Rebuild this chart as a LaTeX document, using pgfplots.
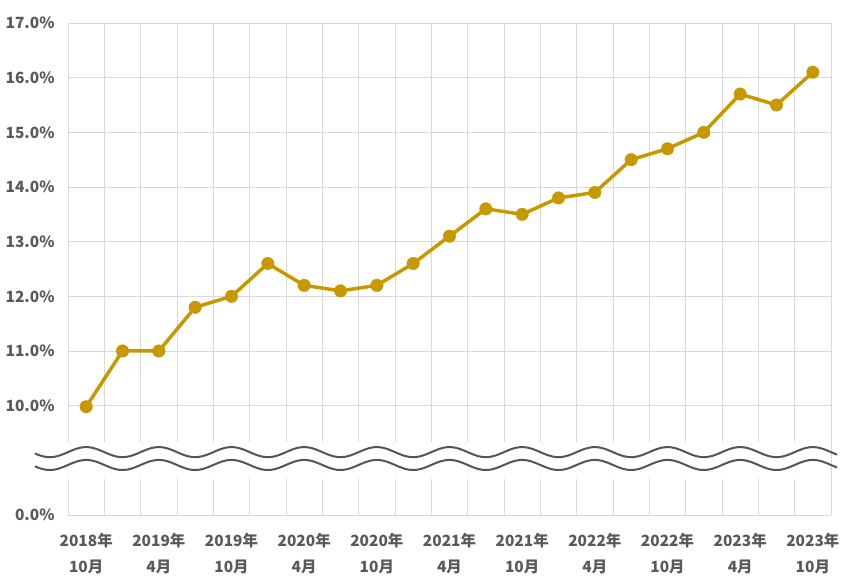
\documentclass[border=0pt]{standalone}
\usepackage{fontspec}
\setmainfont{Noto Sans CJK JP}
\usepackage{pgfplots}
\pgfplotsset{compat=1.18}
\definecolor{gold}{RGB}{200,152,0}
\definecolor{gridc}{RGB}{217,217,217}
\definecolor{txt}{RGB}{89,89,89}
\definecolor{wavec}{RGB}{85,85,85}
\begin{document}
\begin{tikzpicture}
\begin{axis}[
  scale only axis, width=763bp, height=492bp,
  xmin=-0.5, xmax=20.5, ymin=8, ymax=17,
  axis line style={draw=none},
  ytick={8,10,11,12,13,14,15,16,17},
  yticklabels={0.0\%,10.0\%,11.0\%,12.0\%,13.0\%,14.0\%,15.0\%,16.0\%,17.0\%},
  ymajorgrids,
  major grid style={gridc, line width=0.75bp},
  xtick={0,2,...,20},
  xticklabels={{2018年\\10月},{2019年\\4月},{2019年\\10月},{2020年\\4月},{2020年\\10月},{2021年\\4月},{2021年\\10月},{2022年\\4月},{2022年\\10月},{2023年\\4月},{2023年\\10月}},
  minor xtick={-0.5,0.5,...,20.5},
  xminorgrids,
  minor grid style={gridc, line width=0.75bp},
  major tick length=0pt, minor tick length=0pt,
  tick label style={font=\fontsize{15.5}{26}\selectfont\bfseries, text=txt},
  xticklabel style={align=center, yshift=-15bp},
  yticklabel style={xshift=-10bp},
  clip=false,
]
\addplot[gold, line width=3.5bp, mark=*, mark size=6.3bp, mark options={fill=gold, draw=gold, line width=0.3bp}] coordinates {
(0,9.98) (1,11.0) (2,11.0) (3,11.8) (4,12.0) (5,12.6) (6,12.2) (7,12.1) (8,12.2) (9,12.6)
(10,13.1) (11,13.6) (12,13.5) (13,13.8) (14,13.9) (15,14.5) (16,14.7) (17,15.0) (18,15.7) (19,15.5) (20,16.1)
};
\fill[white] (axis cs:-0.5,8.66) rectangle (axis cs:20.5,9.33);
\draw[wavec, line width=2bp] plot[domain=-1.41:20.67, samples=400, smooth] (axis cs:\x,{9.15+0.092*cos(180*\x)});
\draw[wavec, line width=2bp] plot[domain=-1.41:20.67, samples=400, smooth] (axis cs:\x,{8.915+0.092*cos(180*\x)});
\end{axis}
\pgfresetboundingbox
\path ([xshift=-68bp,yshift=-72bp]current axis.south west) rectangle ([xshift=16bp,yshift=23bp]current axis.north east);
\end{tikzpicture}
\end{document}
